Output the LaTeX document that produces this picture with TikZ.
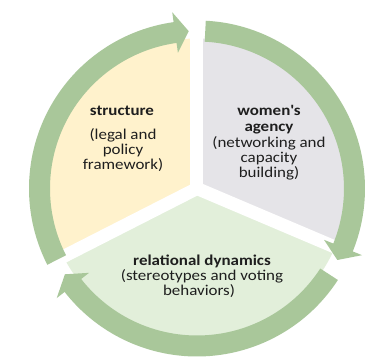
\documentclass[tikz,border=0pt]{standalone}
\usepackage{fontspec}
\setmainfont{Carlito}[FakeStretch=1.13]
\definecolor{yel}{HTML}{FFF2CC}
\definecolor{gry}{HTML}{E5E4E8}
\definecolor{grn}{HTML}{E2EFDA}
\definecolor{ringg}{HTML}{A9C79A}
\definecolor{txt}{HTML}{1E1E1E}
\newcommand\cyclearrow[3]{%
  \fill[ringg] (#1:168pt) arc[start angle=#1, end angle=#2, radius=168pt]
    -- (#2:178pt) -- (#3:157.5pt) -- (#2:137pt) -- (#2:147pt)
    arc[start angle=#2, end angle=#1, radius=147pt] -- cycle;}
\tikzset{
  lbl/.style={font=\fontsize{15}{16}\selectfont, text=txt, inner sep=0pt, anchor=base},
  lblb/.style={lbl, font=\fontsize{15}{16}\selectfont\bfseries},
  gapline/.style={draw=white, line width=13pt},
}
\begin{document}
\begin{tikzpicture}
\useasboundingbox[fill=white] (-197pt,-169.5pt) rectangle (171pt,188.5pt);
\coordinate (c) at (0,0);
% sectors
\fill[yel] (c) -- (90:150pt) arc[start angle=90, end angle=207, radius=150pt] -- cycle;
\fill[gry] (c) -- (-23:150pt) arc[start angle=-23, end angle=90, radius=150pt] -- cycle;
\fill[grn] (c) -- (207:150pt) arc[start angle=207, end angle=337, radius=150pt] -- cycle;
% gaps
\coordinate (g1) at (90:160pt);
\coordinate (g2) at (207:160pt);
\coordinate (g3) at (-23:160pt);
\draw[gapline] (c) -- (g1);
\draw[gapline] (c) -- (g2);
\draw[gapline] (c) -- (g3);
% ring arrows
\cyclearrow{207}{98}{93}
\cyclearrow{87}{-22}{-27}
\cyclearrow{-33}{-142}{-147}
% texts
\node[lblb] (s1) at (-75pt,72.5pt) {structure};
\node[lbl] (s2) at (-74pt,48.5pt) {(legal and};
\node[lbl] (s3) at (-74pt,33.5pt) {policy};
\node[lbl] (s4) at (-74pt,18.5pt) {framework)};
\node[lblb] (w1) at (72pt,72.5pt) {women\textquotesingle s};
\node[lblb] (w2) at (72pt,56.5pt) {agency};
\node[lbl] (w3) at (72pt,41pt) {(networking and};
\node[lbl] (w4) at (72pt,25.5pt) {capacity};
\node[lbl] (w5) at (72pt,10.5pt) {building)};
\node[lblb] (r1) at (5pt,-77.5pt) {relational dynamics};
\node[lbl] (r2) at (5pt,-92.5pt) {(stereotypes and voting};
\node[lbl] (r3) at (2pt,-107.5pt) {behaviors)};
\end{tikzpicture}
\end{document}
